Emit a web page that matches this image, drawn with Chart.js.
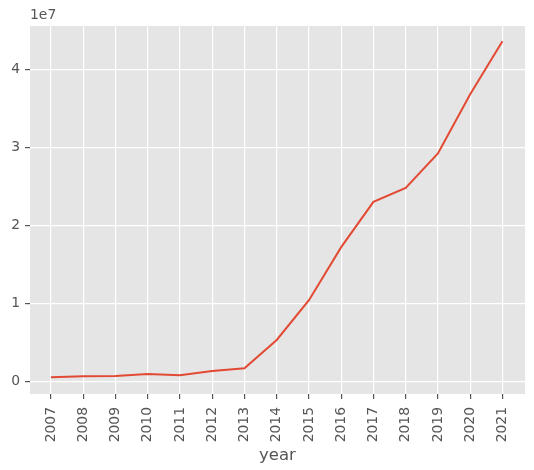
<!DOCTYPE html>
<html>
<head>
<meta charset="utf-8">
<script src="https://cdn.jsdelivr.net/npm/chart.js@4/dist/chart.umd.min.js"></script>
<style>
  html, body { margin: 0; padding: 0; background: #fff; }
  #wrap { width: 534px; height: 470px; }
</style>
</head>
<body>
<div id="wrap"><canvas id="myChart" width="534" height="470"></canvas></div>
<script>
// values
const years = [2007, 2008, 2009, 2010, 2011, 2012, 2013, 2014, 2015, 2016, 2017, 2018, 2019, 2020, 2021];
const values = [510000, 640000, 680000, 940000, 770000, 1320000, 1660000, 5300000, 10400000, 17200000, 23000000, 24800000, 29200000, 36800000, 43600000];
const yTicks = [0, 10000000, 20000000, 30000000, 40000000];
const offsetText = "1e7";
const xTitle = "year";

const textColor = "#555555";
const font = { family: "DejaVu Sans", size: 13.9 };

const points = years.map((y, i) => ({ x: y, y: values[i] }));

// grey panel behind the plot + scale multiplier text
const ggBack = {
  id: "ggBack",
  beforeDraw(chart) {
    const a = chart.chartArea, ctx = chart.ctx;
    ctx.save();
    ctx.fillStyle = "#E5E5E5";
    ctx.fillRect(a.left, a.top, a.right - a.left, a.bottom - a.top);
    ctx.restore();
  },
  afterDraw(chart) {
    const a = chart.chartArea, ctx = chart.ctx;
    ctx.save();
    ctx.fillStyle = textColor;
    ctx.font = font.size + "px " + font.family;
    ctx.textBaseline = "bottom";
    ctx.textAlign = "left";
    ctx.fillText(offsetText, a.left, a.top - 4);
    ctx.restore();
  }
};

new Chart("myChart", {
  type: "line",
  data: {
    datasets: [{
      data: points,
      borderColor: "#E24A33",
      borderWidth: 2,
      pointRadius: 0,
      fill: false,
      tension: 0
    }]
  },
  options: {
    responsive: false,
    animation: false,
    events: [],
    layout: { padding: { top: 26, right: 9, left: 0, bottom: 0 } },
    plugins: { legend: { display: false }, tooltip: { enabled: false } },
    scales: {
      x: {
        type: "linear",
        min: 2006.35,
        max: 2021.7,
        afterBuildTicks: s => { s.ticks = years.map(v => ({ value: v })); },
        afterFit: s => { s.height = 76; },
        grid: { color: "#ffffff", lineWidth: 1.2, tickColor: textColor, tickLength: 5, drawTicks: true },
        border: { display: false },
        ticks: {
          color: textColor, font: font,
          minRotation: 90, maxRotation: 90, padding: 8,
          autoSkip: false,
          callback: v => String(v)
        },
        title: {
          display: true, text: xTitle, color: textColor,
          font: { family: "DejaVu Sans", size: 16.5 },
          padding: { top: 0, bottom: 4 }
        }
      },
      y: {
        min: -1630000,
        max: 45550000,
        afterBuildTicks: s => { s.ticks = yTicks.map(v => ({ value: v })); },
        afterFit: s => { s.width = 30; },
        grid: { color: "#ffffff", lineWidth: 1.2, tickColor: textColor, tickLength: 5 },
        border: { display: false },
        ticks: {
          color: textColor, font: font, padding: 5,
          callback: v => String(v / 10000000)
        }
      }
    }
  },
  plugins: [ggBack]
});
</script>
</body>
</html>
